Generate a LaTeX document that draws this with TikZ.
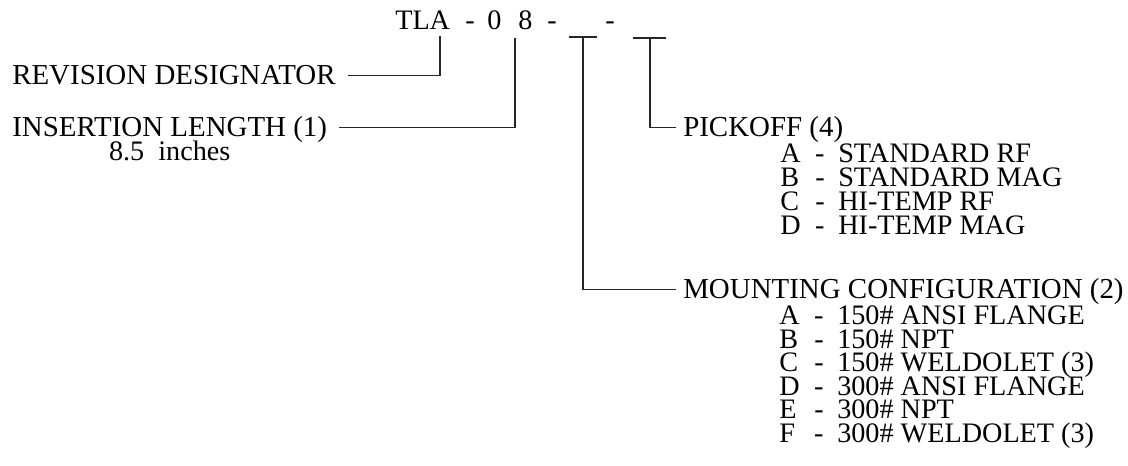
\documentclass[tikz,border=0pt]{standalone}
\usepackage{fontspec}
\setmainfont{Liberation Serif}
\usepackage{tikz}
\usetikzlibrary{calc,positioning}

% one row of an option list: letter, dash, text
\newcommand{\optline}[2]{\makebox[26.25pt][l]{#1}\makebox[17.25pt][l]{-}#2}

\begin{document}
\begin{tikzpicture}[x=0.75pt,y=-0.75pt,
    txt/.style={font=\fontsize{21.15}{17.5}\selectfont, inner sep=0pt, anchor=base west},
    lbl/.style={txt, font=\fontsize{21.7}{18}\selectfont, text height=14pt, text depth=0pt},
    opt/.style={txt, text height=14pt, text depth=0pt},
    link/.style={line width=0.9pt, black!85}]
        \useasboundingbox (0,0) rectangle (1128,466);

        % model code TLA-08-_-_
        \foreach \x/\t/\n in {395/TLA/tla, 465/-/dA, 487/0/dig0, 518/8/dig8, 547/-/dB, 605/-/dC}
            \node[txt] (\n) at (\x,30) {\t};

        % feet of the leader lines under the code
        \coordinate (revtop) at (440,36);
        \coordinate (instop) at (515,38);
        \coordinate (mnttop) at (583,37);
        \coordinate (pcktop) at (650,38);

        % labels on the left
        \node[lbl] (rev) at (12,85) {REVISION DESIGNATOR};
        \node[lbl] (ins) at (12,137) {INSERTION LENGTH (1)};
        \node[opt, anchor=base] (inslen) at ($(ins.base)+(0,24)$) {8.5\ \ inches};

        % labels on the right
        \node[lbl] (pck) at (683,137) {PICKOFF (4)};
        \node[lbl] (mnt) at (683,299) {MOUNTING CONFIGURATION (2)};

        % option lists
        \foreach \l/\t [count=\i] in {A/STANDARD RF, B/STANDARD MAG, C/HI-TEMP RF, D/HI-TEMP MAG}
            \node[opt] (pck\l) at (780,{163+24*(\i-1)}) {\optline{\l}{\t}};
        \foreach \l/\t [count=\i] in {A/150\# ANSI FLANGE, B/150\# NPT, C/150\# WELDOLET (3),
                                      D/300\# ANSI FLANGE, E/300\# NPT, F/300\# WELDOLET (3)}
            \node[opt] (mnt\l) at (779,{325+23.4*(\i-1)}) {\optline{\l}{\t}};

        % leader lines
        \draw[link, shorten <=9pt] (rev.east) -| (revtop);
        \draw[link, shorten <=9pt] (ins.east) -| (instop);
        \draw[link, shorten >=5.5pt] (mnttop) |- (mnt.west);
        \draw[link, shorten >=5.5pt] (pcktop) |- (pck.west);

        % blanks to fill in
        \draw[link] (mnttop) +(-14,0) -- +(14,0);
        \draw[link] (pcktop) +(-17,0) -- +(16,0);
    \end{tikzpicture}
\end{document}
